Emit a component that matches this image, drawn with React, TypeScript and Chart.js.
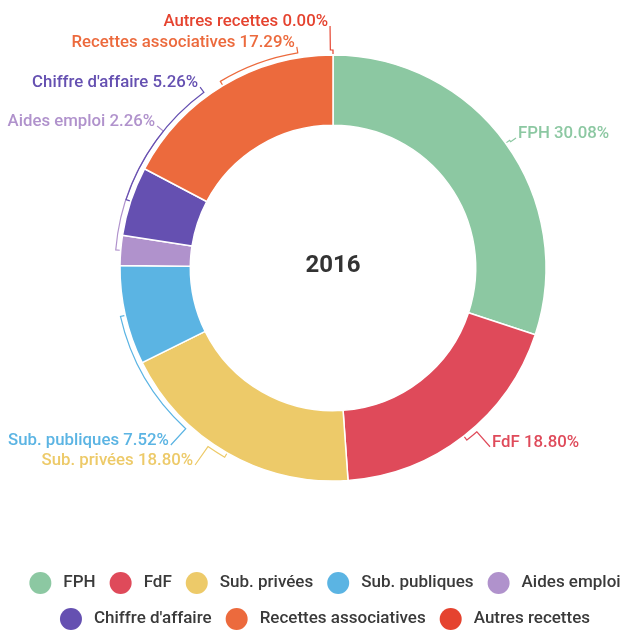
import React, { useEffect, useRef } from "react";
import { Chart, registerables } from "chart.js";

Chart.register(...registerables);

// ---- data ----
const categories = [
  "FPH",
  "FdF",
  "Sub. privées",
  "Sub. publiques",
  "Aides emploi",
  "Chiffre d'affaire",
  "Recettes associatives",
  "Autres recettes",
];
const percentages = [30.08, 18.8, 18.8, 7.52, 2.26, 5.26, 17.29, 0.0];
const centerTitle = "2016";

// ---- style / layout ----
const colors = [
  "#8cc8a2",
  "#df4a5a",
  "#edca69",
  "#5bb4e3",
  "#b092cc",
  "#6550b1",
  "#ec6a3d",
  "#e5432f",
];
// label anchors: angle in degrees clockwise from 12 o'clock, distance as multiple of outer radius
const labelAngles = [54.6, 138.7, 215.0, 222.5, 308.9, 323.7, 350.7, 359.3];
const labelDistances = [1.054, 1.117, 1.129, 1.127, 1.061, 1.054, 1.052, 1.136];

const FONT = "Roboto, 'Noto Sans', sans-serif";

const overlayPlugin = {
  id: "overlay",
  afterDatasetsDraw(chart: any) {
    const ctx = chart.ctx as CanvasRenderingContext2D;
    const meta = chart.getDatasetMeta(0);
    const arcs = meta.data;
    if (!arcs.length) return;
    const cx = arcs[0].x;
    const cy = arcs[0].y;
    const r = arcs[0].outerRadius;
    const ds = chart.data.datasets[0];

    // slice labels with connectors
    ctx.save();
    ctx.font = `500 16.8px ${FONT}`;
    ctx.textBaseline = "alphabetic";
    arcs.forEach((arc: any, i: number) => {
      const col = colors[i];
      const m = (arc.startAngle + arc.endAngle) / 2;
      const a = ((labelAngles[i] - 90) * Math.PI) / 180;
      const d = labelDistances[i] * r;
      const ax = cx + d * Math.cos(a);
      const ay = cy + d * Math.sin(a);
      const rr = r + 5;
      ctx.strokeStyle = col;
      ctx.lineWidth = 1.2;
      ctx.beginPath();
      ctx.moveTo(cx + (r + 1) * Math.cos(m), cy + (r + 1) * Math.sin(m));
      ctx.lineTo(cx + rr * Math.cos(m), cy + rr * Math.sin(m));
      ctx.arc(cx, cy, rr, m, a, a < m);
      ctx.lineTo(ax, ay);
      ctx.stroke();

      const val = Number(ds.data[i]).toFixed(2) + "%";
      const txt = `${categories[i]} ${val}`;
      ctx.fillStyle = col;
      const right = labelAngles[i] < 180;
      ctx.textAlign = right ? "left" : "right";
      ctx.fillText(txt, ax + (right ? 2 : -2), ay);
    });
    ctx.restore();

    // center title
    ctx.save();
    ctx.font = `bold 24px ${FONT}`;
    ctx.fillStyle = "#333333";
    ctx.textAlign = "center";
    ctx.textBaseline = "middle";
    ctx.fillText(centerTitle, cx, cy - 2.5);
    ctx.restore();

    // legend
    ctx.save();
    ctx.font = `500 17px ${FONT}`;
    ctx.textBaseline = "middle";
    ctx.textAlign = "left";
    const circleR = 11;
    const textOff = 23;
    const gap = 14;
    const maxW = 605;
    const items = categories.map((c, i) => ({
      label: c,
      color: colors[i],
      w: circleR + textOff + ctx.measureText(c).width,
    }));
    const rows: any[][] = [];
    let cur: any[] = [];
    let curW = 0;
    items.forEach((it) => {
      const add = (cur.length ? gap : 0) + it.w;
      if (cur.length && curW + add > maxW) {
        rows.push(cur);
        cur = [];
        curW = 0;
      }
      curW += (cur.length ? gap : 0) + it.w;
      cur.push(it);
    });
    if (cur.length) rows.push(cur);
    const legendCx = cx - 8;
    const rowY0 = chart.chartArea.bottom + 102;
    const rowH = 36;
    rows.forEach((row, ri) => {
      const w = row.reduce((s, it, k) => s + it.w + (k ? gap : 0), 0);
      let x = legendCx - w / 2;
      const y = rowY0 + ri * rowH;
      row.forEach((it) => {
        ctx.fillStyle = it.color;
        ctx.beginPath();
        ctx.arc(x + circleR, y, circleR, 0, Math.PI * 2);
        ctx.fill();
        ctx.fillStyle = "#3a3a3a";
        ctx.fillText(it.label, x + circleR + textOff, y);
        x += it.w + gap;
      });
    });
    ctx.restore();
  },
};

export default function App() {
  const ref = useRef<HTMLCanvasElement | null>(null);
  useEffect(() => {
    document.body.style.margin = "0";
    const canvas = ref.current;
    if (!canvas) return;
    const chart = new Chart(canvas, {
      type: "doughnut",
      data: {
        labels: categories,
        datasets: [
          {
            data: percentages,
            backgroundColor: colors,
            borderColor: "#ffffff",
            borderWidth: 1.5,
            hoverOffset: 0,
          },
        ],
      },
      options: {
        responsive: false,
        animation: false,
        radius: 213,
        cutout: "67%",
        layout: { padding: { left: 45, right: 0, top: 55, bottom: 149 } },
        plugins: {
          legend: { display: false },
          tooltip: { enabled: false },
        },
      } as any,
      plugins: [overlayPlugin],
    });
    return () => chart.destroy();
  }, []);
  return (
    <div style={{ width: 621, height: 630, background: "#fff" }}>
      <canvas ref={ref} width={621} height={630} style={{ display: "block" }} />
    </div>
  );
}
